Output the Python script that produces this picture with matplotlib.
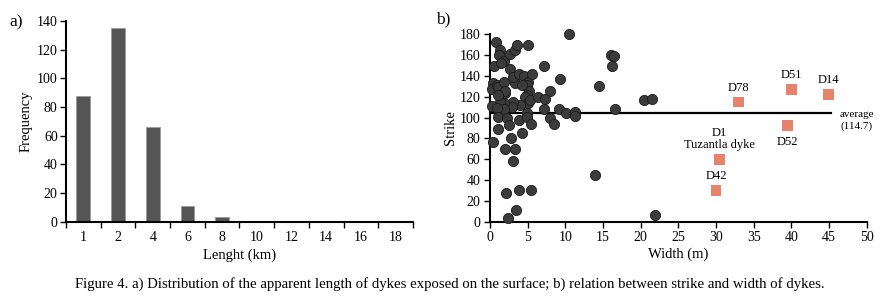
import matplotlib
matplotlib.use("Agg")
import matplotlib.pyplot as plt
import numpy as np

plt.rcParams['font.family'] = ['Liberation Serif', 'DejaVu Serif']

# Panel a data
length_cats = ["1", "2", "4", "6", "8", "10", "12", "14", "16", "18"]
frequency = [88, 135, 66, 11, 3, 0, 0, 0, 0, 0]

# Panel b data (dykes)
width_m = [0.8, 1.3, 1.15, 0.5, 1.8, 1.5, 2.65, 3.3, 3.6, 5.1, 2.6, 7.1, 10.5, 16.0, 16.5, 16.2,
           9.3, 14.4, 8.0, 20.4, 21.5, 16.6,
           0.4, 0.3, 0.9, 1.0, 1.8, 2.0, 3.3, 3.1, 3.9, 4.5, 5.1, 5.6, 4.9, 5.2, 4.9, 4.2, 4.7,
           5.1, 5.3, 4.0, 3.0, 2.9, 1.8, 1.3, 1.9, 0.2, 0.9, 2.0, 1.0, 6.4, 7.3, 7.1, 9.2, 10.1,
           11.3, 11.3,
           1.0, 2.2, 3.9, 4.9, 4.9, 5.5, 4.3, 2.5, 1.1, 7.9, 8.5, 0.35, 2.8, 2.0, 3.3, 3.0, 14.0,
           2.1, 3.8, 5.4, 3.4, 2.4, 21.9]
strike = [173, 165, 160, 150, 154, 152, 161, 165, 170, 170, 147, 150, 180, 160, 159, 150,
          137, 130, 126, 117, 118, 108,
          133, 127, 131, 129, 134, 124, 133, 139, 142, 140, 134, 142, 131, 126, 122, 131, 120,
          114, 117, 112, 115, 110, 114, 115, 108, 111, 109, 126, 122, 120, 118, 108, 108, 104,
          105, 102,
          101, 100, 98, 104, 101, 94, 85, 93, 89, 100, 94, 77, 80, 70, 70, 58, 45,
          28, 30, 30, 11, 4, 6]

named_labels = ["D78", "D51", "D14", "D52", "D1\nTuzantla dyke", "D42"]
named_width = [33.0, 40.0, 44.9, 39.5, 30.5, 30.0]
named_strike = [115, 127, 122, 92, 60, 30]
label_above = [True, True, True, False, True, True]

average_strike_line = 104
average_label = "average\n(114.7)"

fig = plt.figure(figsize=(8.9, 3.03), dpi=100)

TICK_FS = 10
LABEL_FS = 10.5

# ---------- Panel a ----------
ax1 = fig.add_axes([0.0742, 0.2683, 0.464 - 0.0742, 0.9307 - 0.2683])
pos = np.arange(len(length_cats))
ax1.bar(pos, frequency, width=0.4, color='#555555', edgecolor='#9a9a9a', linewidth=0.6)
ax1.set_xlim(-0.5, len(length_cats) - 0.5)
ax1.set_ylim(0, 140)
ax1.set_yticks(np.arange(0, 141, 20))
ax1.set_xticks(pos)
ax1.set_xticklabels(length_cats)
ax1.set_xticks(np.arange(-0.5, len(length_cats), 1.0), minor=True)
ax1.tick_params(axis='x', which='major', length=0, pad=7, labelsize=TICK_FS)
ax1.tick_params(axis='x', which='minor', length=4, width=1, direction='out')
ax1.tick_params(axis='y', length=4, width=1, direction='out', labelsize=TICK_FS, pad=2)
for s in ['top', 'right']:
    ax1.spines[s].set_visible(False)
for s in ['left', 'bottom']:
    ax1.spines[s].set_linewidth(1.5)
ax1.set_xlabel("Lenght (km)", fontsize=LABEL_FS, labelpad=3)
ax1.set_ylabel("Frequency", fontsize=LABEL_FS, labelpad=3)
fig.text(0.010, 0.925, "a)", fontsize=12.5, va='center')

# ---------- Panel b ----------
ax2 = fig.add_axes([0.5506, 0.2683, 0.9738 - 0.5506, 0.8868 - 0.2683])
ax2.set_xlim(0, 50)
ax2.set_ylim(0, 180)
ax2.plot([0, 45.2], [average_strike_line, average_strike_line], color='black', lw=1.6, zorder=2)
ax2.scatter(width_m, strike, s=54, color='#3b3b3b', edgecolors='#1a1a1a', linewidths=0.6,
            zorder=3, clip_on=False)
ax2.scatter(named_width, named_strike, s=62, marker='s', color='#e8836b', edgecolors='none',
            zorder=4)
for lab, xw, ys, above in zip(named_labels, named_width, named_strike, label_above):
    if above:
        ax2.annotate(lab, (xw, ys), xytext=(0, 6), textcoords='offset points',
                     ha='center', va='bottom', fontsize=9, linespacing=1.0)
    else:
        ax2.annotate(lab, (xw, ys), xytext=(0, -7), textcoords='offset points',
                     ha='center', va='top', fontsize=9)
ax2.text(48.7, 97, average_label, ha='center', va='center', fontsize=8, linespacing=1.3)
ax2.set_xticks(np.arange(0, 51, 5))
ax2.set_yticks(np.arange(0, 181, 20))
ax2.tick_params(axis='both', length=4, width=1, direction='out', labelsize=TICK_FS, pad=3)
for s in ['top', 'right']:
    ax2.spines[s].set_visible(False)
for s in ['left', 'bottom']:
    ax2.spines[s].set_linewidth(1.5)
ax2.set_xlabel("Width (m)", fontsize=LABEL_FS, labelpad=2)
ax2.set_ylabel("Strike", fontsize=LABEL_FS, labelpad=2)
fig.text(0.490, 0.935, "b)", fontsize=12.5, va='center')

fig.text(0.505, 0.064, "Figure 4. a) Distribution of the apparent length of dykes exposed on the surface; "
         "b) relation between strike and width of dykes.", ha='center', va='center', fontsize=10.6)

fig.savefig("out.png", dpi=100)
